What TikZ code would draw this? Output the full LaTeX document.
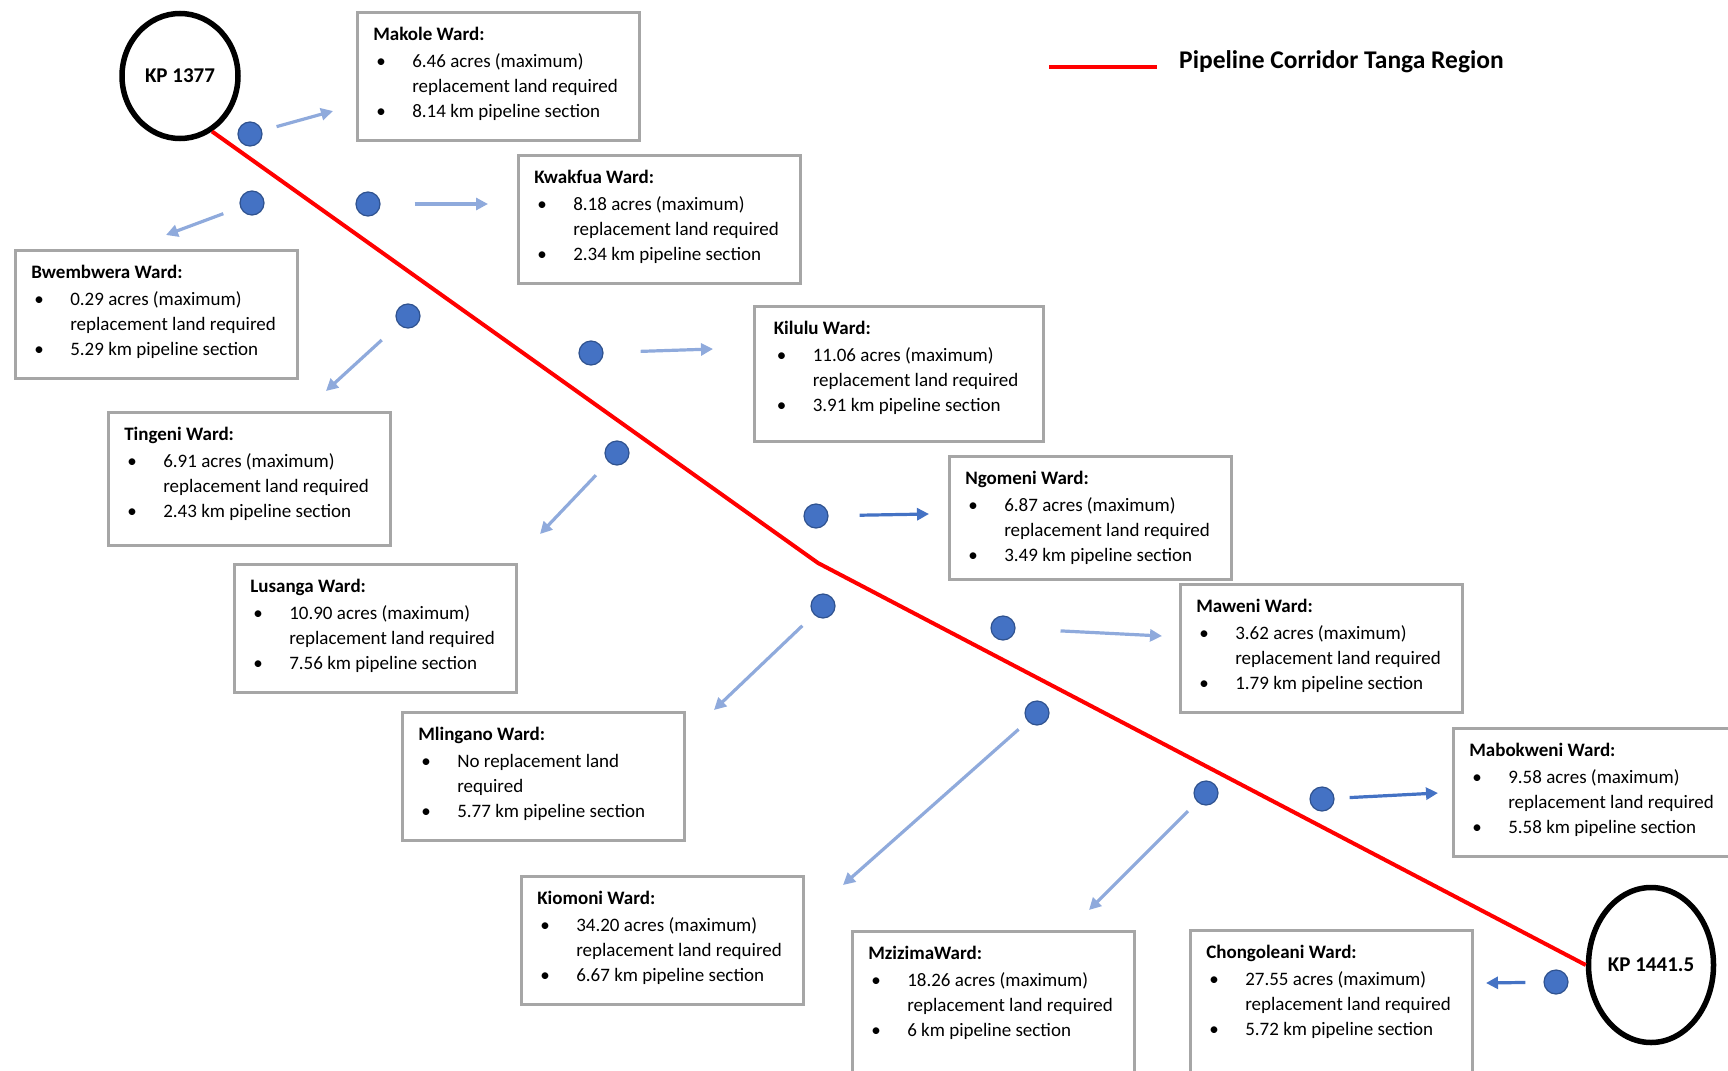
\documentclass[tikz,border=0pt]{standalone}
\usepackage{fontspec}
\setmainfont{Carlito}
\usetikzlibrary{arrows.meta,shapes.geometric}
\definecolor{dotblue}{HTML}{4472C4}
\definecolor{dotedge}{HTML}{2F528F}
\definecolor{paleblue}{HTML}{8FAADC}
\definecolor{boxgray}{HTML}{A6A6A6}
\newcommand{\wardinfo}[5][98pt]{\parbox[t][#1][t]{250pt}{\textbf{#2}\\[2pt]
  \makebox[39pt][l]{\hspace{3pt}\textbullet}#3\\
  \hspace*{39pt}#4\\
  \makebox[39pt][l]{\hspace{3pt}\textbullet}#5}}

\begin{document}
\begin{tikzpicture}[
    x=1pt, y=-1pt,
    font=\fontsize{19}{25}\selectfont,
    ward/.style={
        draw=boxgray,
        line width=2.6pt,
        anchor=north west,
        inner xsep=16pt,
        inner ysep=15pt
    },
    kp/.style={ellipse, draw=black, line width=5.5pt, inner sep=0pt, font=\fontsize{21}{25}\selectfont\bfseries},
    wardpt/.style={circle, fill=dotblue, draw=dotedge, line width=1.2pt, minimum size=24pt, inner sep=0pt},
    pipe/.style={draw=red, line width=4pt},
    arr/.style={-{Triangle[length=12pt,width=12pt]}, line width=3.2pt, draw=paleblue},
    darr/.style={arr, draw=dotblue}
]
    \useasboundingbox (0,0) rectangle (1728,1070);
    \clip (0,0) rectangle (1728,1070);

    \node[ward] (makole) at (356,11) {\wardinfo{Makole Ward:}{6.46 acres (maximum)}{replacement land required}{8.14 km pipeline section}};
    \node[ward] (kwakfua) at (517,154) {\wardinfo{Kwakfua Ward:}{8.18 acres (maximum)}{replacement land required}{2.34 km pipeline section}};
    \node[ward] (bwembwera) at (14,249) {\wardinfo{Bwembwera Ward:}{0.29 acres (maximum)}{replacement land required}{5.29 km pipeline section}};
    \node[ward, inner xsep=19.5pt] (kilulu) at (753,305) {\wardinfo[105pt]{Kilulu Ward:}{11.06 acres (maximum)}{replacement land required}{3.91 km pipeline section}};
    \node[ward] (tingeni) at (107,411) {\wardinfo[103pt]{Tingeni Ward:}{6.91 acres (maximum)}{replacement land required}{2.43 km pipeline section}};
    \node[ward] (ngomeni) at (948,455) {\wardinfo[93pt]{Ngomeni Ward:}{6.87 acres (maximum)}{replacement land required}{3.49 km pipeline section}};
    \node[ward] (lusanga) at (233,563) {\wardinfo{Lusanga Ward:}{10.90 acres (maximum)}{replacement land required}{7.56 km pipeline section}};
    \node[ward] (maweni) at (1179,583) {\wardinfo{Maweni Ward:}{3.62 acres (maximum)}{replacement land required}{1.79 km pipeline section}};
    \node[ward] (mlingano) at (401,711) {\wardinfo{Mlingano Ward:}{No replacement land}{required}{5.77 km pipeline section}};
    \node[ward] (mabokweni) at (1452,727) {\wardinfo{Mabokweni Ward:}{9.58 acres (maximum)}{replacement land required}{5.58 km pipeline section}};
    \node[ward] (kiomoni) at (520,875) {\wardinfo{Kiomoni Ward:}{34.20 acres (maximum)}{replacement land required}{6.67 km pipeline section}};
    \node[ward] (mzizima) at (851,930) {\wardinfo[250pt]{MzizimaWard:}{18.26 acres (maximum)}{replacement land required}{6 km pipeline section}};
    \node[ward] (chongoleani) at (1189,929) {\wardinfo[250pt]{Chongoleani Ward:}{27.55 acres (maximum)}{replacement land required}{5.72 km pipeline section}};

    \node[kp, minimum width=116pt, minimum height=125pt] (kpstart) at (180,76) {KP 1377};
    \node[kp, minimum width=125pt, minimum height=155pt] (kpend) at (1651,965) {KP 1441.5};
    \coordinate (bend) at (818,563);
    \draw[pipe] (kpstart.-60) -- (bend) -- (kpend.west);

    \coordinate (legstart) at (1049,67);
    \coordinate (legend) at (1157,67);
    \draw[pipe] (legstart) -- (legend);
    \node[anchor=base west, inner sep=0pt, font=\fontsize{25.5}{30}\selectfont\bfseries] (legtext) at (1179,69) {Pipeline Corridor Tanga Region};

    \node[wardpt] (pmakole) at (250,134) {};
    \node[wardpt] (pbwembwera) at (252,203) {};
    \node[wardpt] (pkwakfua) at (368,204) {};
    \node[wardpt] (ptingeni) at (408,316) {};
    \node[wardpt] (pkilulu) at (591,353) {};
    \node[wardpt] (plusanga) at (617,453) {};
    \node[wardpt] (pngomeni) at (816,516) {};
    \node[wardpt] (pmlingano) at (823,606) {};
    \node[wardpt] (pmaweni) at (1003,628) {};
    \node[wardpt] (pkiomoni) at (1037,713) {};
    \node[wardpt] (pmzizima) at (1206,793) {};
    \node[wardpt] (pmabokweni) at (1322,799) {};
    \node[wardpt] (pchongoleani) at (1556,982) {};

    \coordinate (tmakole) at (333,111);
    \coordinate (tbwembwera) at (166,235);
    \coordinate (tkwakfua) at (488,204);
    \coordinate (ttingeni) at (326,391);
    \coordinate (tkilulu) at (713,349);
    \coordinate (tlusanga) at (540,534);
    \coordinate (tngomeni) at (929,514);
    \coordinate (tmlingano) at (714,710);
    \coordinate (tmaweni) at (1162,636);
    \coordinate (tkiomoni) at (843,885);
    \coordinate (tmzizima) at (1089,910);
    \coordinate (tmabokweni) at (1438,793);
    \coordinate (tchongoleani) at (1486,983);

    \draw[arr, shorten <=15pt] (pmakole) -- (tmakole);
    \draw[arr, shorten <=18pt] (pbwembwera) -- (tbwembwera);
    \draw[arr, shorten <=34pt] (pkwakfua) -- (tkwakfua);
    \draw[arr, shorten <=23pt] (ptingeni) -- (ttingeni);
    \draw[arr, shorten <=37pt] (pkilulu) -- (tkilulu);
    \draw[arr, shorten <=18pt] (plusanga) -- (tlusanga);
    \draw[darr, shorten <=31pt] (pngomeni) -- (tngomeni);
    \draw[arr, shorten <=16pt] (pmlingano) -- (tmlingano);
    \draw[arr, shorten <=45pt] (pmaweni) -- (tmaweni);
    \draw[arr, shorten <=12pt] (pkiomoni) -- (tkiomoni);
    \draw[arr, shorten <=13pt] (pmzizima) -- (tmzizima);
    \draw[darr, shorten <=15pt] (pmabokweni) -- (tmabokweni);
    \draw[darr, shorten <=18pt] (pchongoleani) -- (tchongoleani);
\end{tikzpicture}
\end{document}
